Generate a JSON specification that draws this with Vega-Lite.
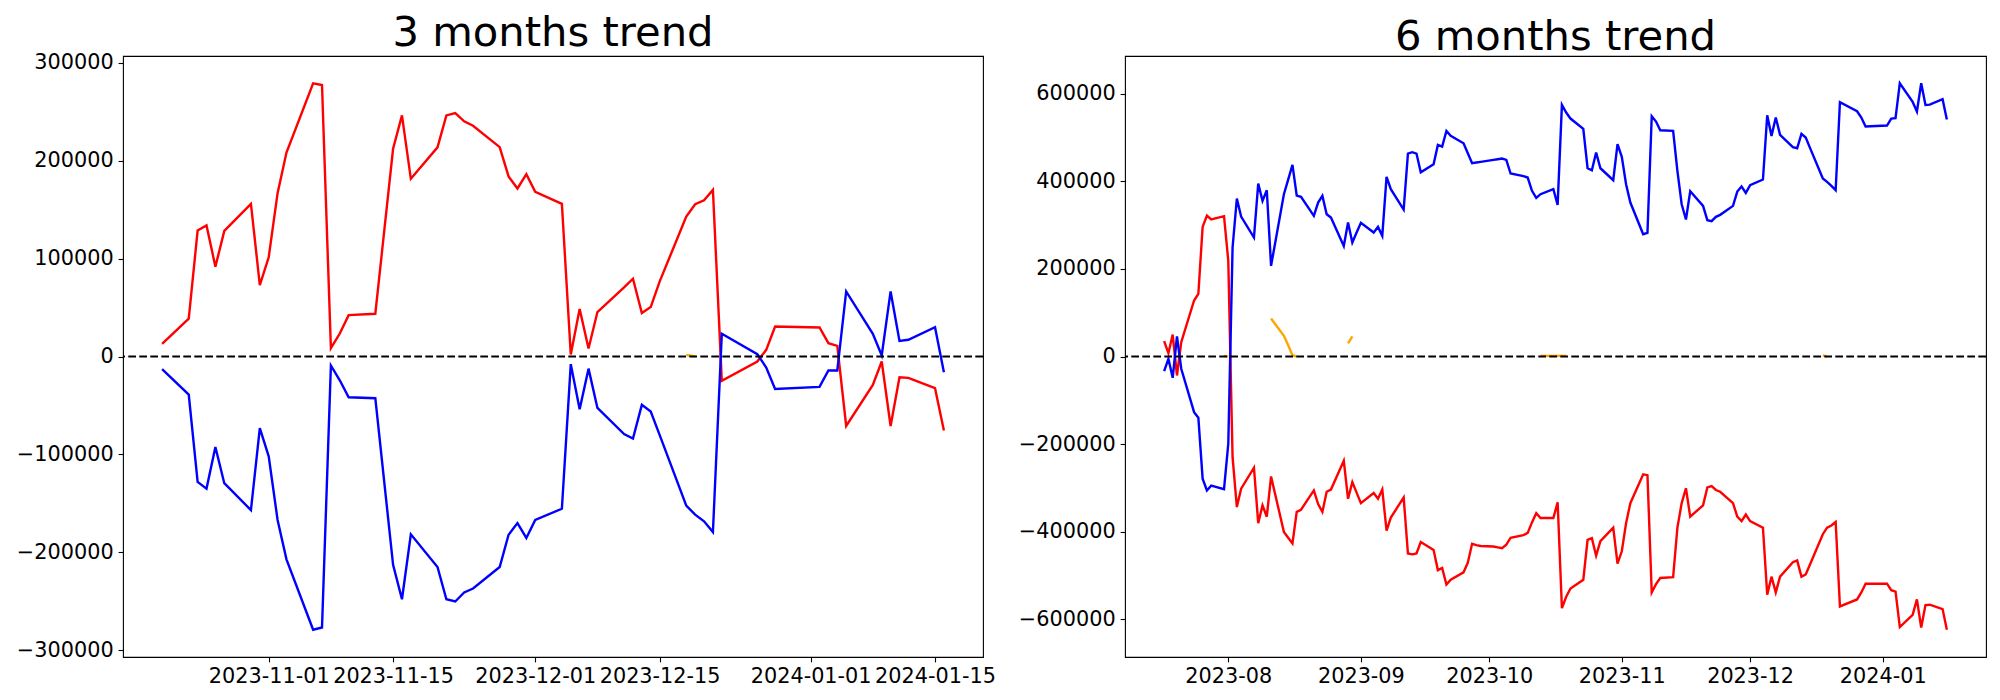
{
 "$schema": "https://vega.github.io/schema/vega-lite/v6.json",
 "background": "white",
 "padding": {"left": 15, "top": 12, "right": 0, "bottom": 0},
 "spacing": 20,
 "config": {
   "font": "DejaVu Sans",
   "view": {"stroke": "black", "strokeWidth": 1.1},
   "axis": {"grid": false, "domain": false, "ticks": true, "tickColor": "black", "tickSize": 4.9, "tickWidth": 1.1, "labelFont": "DejaVu Sans", "labelFontSize": 20.8, "labelColor": "black", "labelPadding": 4.9, "title": null, "labelOverlap": false, "labelFlush": false},
   "title": {"font": "DejaVu Sans", "fontSize": 41.7, "fontWeight": "normal", "color": "black", "offset": -3}
 },
 "datasets": {
  "m3": [
   {"d":"2023-10-20","r":13000,"b":-12800},
   {"d":"2023-10-23","r":38600,"b":-38900},
   {"d":"2023-10-24","r":128700,"b":-128200},
   {"d":"2023-10-25","r":134000,"b":-135000},
   {"d":"2023-10-26","r":91800,"b":-92500},
   {"d":"2023-10-27","r":128300,"b":-129500},
   {"d":"2023-10-30","r":156000,"b":-157000},
   {"d":"2023-10-31","r":73000,"b":-73200},
   {"d":"2023-11-01","r":101400,"b":-102000},
   {"d":"2023-11-02","r":166900,"b":-167000},
   {"d":"2023-11-03","r":208500,"b":-207300},
   {"d":"2023-11-06","r":279200,"b":-279200},
   {"d":"2023-11-07","r":277500,"b":-276900},
   {"d":"2023-11-08","r":8500,"b":-9200},
   {"d":"2023-11-09","r":23500,"b":-24300},
   {"d":"2023-11-10","r":42300,"b":-41600},
   {"d":"2023-11-13","r":43700,"b":-42600},
   {"d":"2023-11-15","r":212300,"b":-212900},
   {"d":"2023-11-16","r":246400,"b":-248100},
   {"d":"2023-11-17","r":181600,"b":-181700},
   {"d":"2023-11-20","r":213700,"b":-215100},
   {"d":"2023-11-21","r":246400,"b":-248100},
   {"d":"2023-11-22","r":248800,"b":-250400},
   {"d":"2023-11-23","r":240300,"b":-241200},
   {"d":"2023-11-24","r":235800,"b":-237100},
   {"d":"2023-11-27","r":214000,"b":-215100},
   {"d":"2023-11-28","r":184000,"b":-182200},
   {"d":"2023-11-29","r":171700,"b":-170300},
   {"d":"2023-11-30","r":186300,"b":-185400},
   {"d":"2023-12-01","r":168300,"b":-167100},
   {"d":"2023-12-04","r":156000,"b":-155600},
   {"d":"2023-12-05","r":2000,"b":-7800},
   {"d":"2023-12-06","r":48500,"b":-54000},
   {"d":"2023-12-07","r":8200,"b":-12400},
   {"d":"2023-12-08","r":45400,"b":-52600},
   {"d":"2023-12-11","r":70600,"b":-79200},
   {"d":"2023-12-12","r":79500,"b":-83800},
   {"d":"2023-12-13","r":44400,"b":-49400},
   {"d":"2023-12-14","r":50500,"b":-56300},
   {"d":"2023-12-15","r":76500,"b":-80100},
   {"d":"2023-12-18","r":143000,"b":-152400},
   {"d":"2023-12-19","r":155600,"b":-161600},
   {"d":"2023-12-20","r":159700,"b":-168400},
   {"d":"2023-12-21","r":170300,"b":-179400},
   {"d":"2023-12-22","r":-24900,"b":23200},
   {"d":"2023-12-26","r":-5100,"b":2400},
   {"d":"2023-12-27","r":6800,"b":-11300},
   {"d":"2023-12-28","r":30700,"b":-33100},
   {"d":"2024-01-02","r":29700,"b":-31000},
   {"d":"2024-01-03","r":13600,"b":-14300},
   {"d":"2024-01-04","r":10900,"b":-14300},
   {"d":"2024-01-05","r":-71000,"b":66500},
   {"d":"2024-01-08","r":-29000,"b":23200},
   {"d":"2024-01-09","r":-5100,"b":1000},
   {"d":"2024-01-10","r":-71000,"b":66500},
   {"d":"2024-01-11","r":-21200,"b":16000},
   {"d":"2024-01-12","r":-21800,"b":17100},
   {"d":"2024-01-15","r":-32400,"b":30000},
   {"d":"2024-01-16","r":-75700,"b":-16000}
  ],
  "o3": [
   {"d":"2023-12-18","v":1700,"g":1},
   {"d":"2023-12-19","v":0,"g":1}
  ],
  "m6": [
   {"d":"2023-07-17","r":35000,"b":-33500},
   {"d":"2023-07-18","r":7600,"b":-5300},
   {"d":"2023-07-19","r":50200,"b":-48700},
   {"d":"2023-07-20","r":-43400,"b":45700},
   {"d":"2023-07-21","r":32700,"b":-28000},
   {"d":"2023-07-24","r":127900,"b":-127100},
   {"d":"2023-07-25","r":143000,"b":-140000},
   {"d":"2023-07-26","r":296000,"b":-279000},
   {"d":"2023-07-27","r":322000,"b":-306000},
   {"d":"2023-07-28","r":313000,"b":-295000},
   {"d":"2023-07-31","r":320500,"b":-303000},
   {"d":"2023-08-01","r":218500,"b":-199000},
   {"d":"2023-08-02","r":-230000,"b":249000},
   {"d":"2023-08-03","r":-344000,"b":360900},
   {"d":"2023-08-04","r":-302000,"b":319700},
   {"d":"2023-08-07","r":-254000,"b":271800},
   {"d":"2023-08-08","r":-381000,"b":395100},
   {"d":"2023-08-09","r":-340000,"b":355500},
   {"d":"2023-08-10","r":-366000,"b":379900},
   {"d":"2023-08-11","r":-274000,"b":207100},
   {"d":"2023-08-14","r":-401000,"b":370800},
   {"d":"2023-08-15","r":-414000,"b":404200},
   {"d":"2023-08-16","r":-427000,"b":437700},
   {"d":"2023-08-17","r":-355000,"b":367700},
   {"d":"2023-08-18","r":-350000,"b":364700},
   {"d":"2023-08-21","r":-306000,"b":321300},
   {"d":"2023-08-22","r":-337000,"b":351700},
   {"d":"2023-08-23","r":-355000,"b":366900},
   {"d":"2023-08-24","r":-309000,"b":325100},
   {"d":"2023-08-25","r":-304000,"b":317500},
   {"d":"2023-08-28","r":-238000,"b":252700},
   {"d":"2023-08-29","r":-325000,"b":306000},
   {"d":"2023-08-30","r":-287000,"b":260400},
   {"d":"2023-08-31","r":-311000,"b":283200},
   {"d":"2023-09-01","r":-335000,"b":305300},
   {"d":"2023-09-04","r":-312000,"b":283200},
   {"d":"2023-09-05","r":-325000,"b":296100},
   {"d":"2023-09-06","r":-304000,"b":275600},
   {"d":"2023-09-07","r":-398000,"b":410300},
   {"d":"2023-09-08","r":-368000,"b":382200},
   {"d":"2023-09-11","r":-322000,"b":335700},
   {"d":"2023-09-12","r":-450000,"b":463600},
   {"d":"2023-09-13","r":-452000,"b":466700},
   {"d":"2023-09-14","r":-450000,"b":463600},
   {"d":"2023-09-15","r":-424000,"b":421000},
   {"d":"2023-09-18","r":-442000,"b":439300},
   {"d":"2023-09-19","r":-488000,"b":483400},
   {"d":"2023-09-20","r":-483000,"b":479600},
   {"d":"2023-09-21","r":-521000,"b":515400},
   {"d":"2023-09-22","r":-510000,"b":504000},
   {"d":"2023-09-25","r":-493000,"b":487200},
   {"d":"2023-09-26","r":-471000,"b":464400},
   {"d":"2023-09-27","r":-428000,"b":441600},
   {"d":"2023-09-28","r":-431000,"b":443100},
   {"d":"2023-09-29","r":-433000,"b":444600},
   {"d":"2023-10-02","r":-434000,"b":449200},
   {"d":"2023-10-03","r":-436000,"b":450700},
   {"d":"2023-10-04","r":-438000,"b":452200},
   {"d":"2023-10-05","r":-430000,"b":449200},
   {"d":"2023-10-06","r":-414000,"b":418000},
   {"d":"2023-10-09","r":-408000,"b":411900},
   {"d":"2023-10-10","r":-403000,"b":408800},
   {"d":"2023-10-11","r":-379000,"b":378400},
   {"d":"2023-10-12","r":-358000,"b":362400},
   {"d":"2023-10-13","r":-369000,"b":370800},
   {"d":"2023-10-16","r":-369000,"b":382200},
   {"d":"2023-10-17","r":-333000,"b":346400},
   {"d":"2023-10-18","r":-575000,"b":574800},
   {"d":"2023-10-19","r":-549000,"b":557300},
   {"d":"2023-10-20","r":-530000,"b":543600},
   {"d":"2023-10-23","r":-510000,"b":520000},
   {"d":"2023-10-24","r":-419000,"b":430100},
   {"d":"2023-10-25","r":-415000,"b":425600},
   {"d":"2023-10-26","r":-455000,"b":465900},
   {"d":"2023-10-27","r":-422000,"b":430100},
   {"d":"2023-10-30","r":-391000,"b":402700},
   {"d":"2023-10-31","r":-473000,"b":485000},
   {"d":"2023-11-01","r":-445000,"b":456000},
   {"d":"2023-11-02","r":-381000,"b":393600},
   {"d":"2023-11-03","r":-335000,"b":351700},
   {"d":"2023-11-06","r":-269000,"b":279400},
   {"d":"2023-11-07","r":-271000,"b":282400},
   {"d":"2023-11-08","r":-539000,"b":548900},
   {"d":"2023-11-09","r":-520000,"b":536700},
   {"d":"2023-11-10","r":-506000,"b":516900},
   {"d":"2023-11-13","r":-504000,"b":515400},
   {"d":"2023-11-14","r":-391000,"b":424000},
   {"d":"2023-11-15","r":-335000,"b":347900},
   {"d":"2023-11-16","r":-301000,"b":312900},
   {"d":"2023-11-17","r":-366000,"b":377600},
   {"d":"2023-11-20","r":-340000,"b":344100},
   {"d":"2023-11-21","r":-299000,"b":311400},
   {"d":"2023-11-22","r":-296000,"b":309100},
   {"d":"2023-11-23","r":-305000,"b":319000},
   {"d":"2023-11-24","r":-309000,"b":323600},
   {"d":"2023-11-27","r":-335000,"b":344100},
   {"d":"2023-11-28","r":-366000,"b":376800},
   {"d":"2023-11-29","r":-376000,"b":388300},
   {"d":"2023-11-30","r":-361000,"b":373800},
   {"d":"2023-12-01","r":-376000,"b":391300},
   {"d":"2023-12-04","r":-391000,"b":404300},
   {"d":"2023-12-05","r":-544000,"b":551200},
   {"d":"2023-12-06","r":-503000,"b":504000},
   {"d":"2023-12-07","r":-539000,"b":545900},
   {"d":"2023-12-08","r":-503000,"b":506300},
   {"d":"2023-12-11","r":-470000,"b":478100},
   {"d":"2023-12-12","r":-466000,"b":475800},
   {"d":"2023-12-13","r":-503000,"b":508500},
   {"d":"2023-12-14","r":-498000,"b":500200},
   {"d":"2023-12-15","r":-475000,"b":476600},
   {"d":"2023-12-18","r":-406000,"b":406500},
   {"d":"2023-12-19","r":-391000,"b":398900},
   {"d":"2023-12-20","r":-386000,"b":389800},
   {"d":"2023-12-21","r":-378000,"b":379900},
   {"d":"2023-12-22","r":-571000,"b":580900},
   {"d":"2023-12-26","r":-555000,"b":560300},
   {"d":"2023-12-27","r":-539000,"b":545900},
   {"d":"2023-12-28","r":-519000,"b":525300},
   {"d":"2024-01-02","r":-519000,"b":527600},
   {"d":"2024-01-03","r":-534000,"b":543600},
   {"d":"2024-01-04","r":-537000,"b":544300},
   {"d":"2024-01-05","r":-618000,"b":624300},
   {"d":"2024-01-08","r":-590000,"b":581600},
   {"d":"2024-01-09","r":-555000,"b":559600},
   {"d":"2024-01-10","r":-619000,"b":624300},
   {"d":"2024-01-11","r":-568000,"b":574800},
   {"d":"2024-01-12","r":-567000,"b":575500},
   {"d":"2024-01-15","r":-577000,"b":587700},
   {"d":"2024-01-16","r":-624000,"b":541300}
  ],
  "o6": [
   {"d":"2023-07-31","v":1500,"g":1},
   {"d":"2023-08-01","v":0,"g":1},
   {"d":"2023-08-11","v":86800,"g":2},
   {"d":"2023-08-14","v":47200,"g":2},
   {"d":"2023-08-15","v":25800,"g":2},
   {"d":"2023-08-16","v":3000,"g":2},
   {"d":"2023-08-17","v":0,"g":2},
   {"d":"2023-08-29","v":29700,"g":3},
   {"d":"2023-08-30","v":45700,"g":3},
   {"d":"2023-10-13","v":1500,"g":4},
   {"d":"2023-10-16","v":1500,"g":4},
   {"d":"2023-10-17","v":1500,"g":4},
   {"d":"2023-10-18","v":1500,"g":4},
   {"d":"2023-10-19","v":1500,"g":4},
   {"d":"2023-12-18","v":2500,"g":5},
   {"d":"2023-12-19","v":0,"g":5}
  ]
 },
 "hconcat": [
  {
   "title": "3 months trend",
   "width": 860,
   "height": 601,
   "encoding": {
    "x": {"field": "d", "type": "temporal",
          "scale": {"type": "utc", "domain": [{"year": 2023, "month": 10, "date": 15, "hours": 14, "minutes": 24, "utc": true}, {"year": 2024, "month": 1, "date": 20, "hours": 9, "minutes": 36, "utc": true}]},
          "axis": {"labelExpr": "utcFormat(datum.value, '%Y-%m-%d')", "labelAngle": 0,
                   "values": [{"year": 2023, "month": 11, "date": 1, "utc": true}, {"year": 2023, "month": 11, "date": 15, "utc": true}, {"year": 2023, "month": 12, "date": 1, "utc": true}, {"year": 2023, "month": 12, "date": 15, "utc": true}, {"year": 2024, "month": 1, "date": 1, "utc": true}, {"year": 2024, "month": 1, "date": 15, "utc": true}]}},
    "y": {"field": "v", "type": "quantitative",
          "scale": {"domain": [-307100, 307100], "nice": false, "zero": false},
          "axis": {"format": "d", "values": [-300000, -200000, -100000, 0, 100000, 200000, 300000]}}
   },
   "layer": [
    {
     "data": {"name": "m3"},
     "transform": [{"fold": ["r", "b"], "as": ["s", "v"]}],
     "mark": {"type": "line", "strokeWidth": 2.4},
     "encoding": {
      "color": {"field": "s", "type": "nominal", "scale": {"domain": ["r", "b"], "range": ["red", "blue"]}, "legend": null}
     }
    },
    {
     "data": {"name": "o3"},
     "mark": {"type": "line", "color": "orange", "strokeWidth": 2.4},
     "encoding": {
      "detail": {"field": "g", "type": "nominal"}
     }
    },
    {
     "data": {"values": [{"z": 0}]},
     "mark": {"type": "rule", "color": "black", "strokeWidth": 2.1, "strokeDash": [7.7, 3.3]},
     "encoding": {"x": null, "y": {"field": "z", "type": "quantitative"}}
    }
   ]
  },
  {
   "title": "6 months trend",
   "width": 861,
   "height": 601,
   "encoding": {
    "x": {"field": "d", "type": "temporal",
          "scale": {"type": "utc", "domain": [{"year": 2023, "month": 7, "date": 7, "hours": 20, "minutes": 24, "utc": true}, {"year": 2024, "month": 1, "date": 25, "hours": 3, "minutes": 36, "utc": true}]},
          "axis": {"labelExpr": "utcFormat(datum.value, '%Y-%m')", "labelAngle": 0,
                   "values": [{"year": 2023, "month": 8, "date": 1, "utc": true}, {"year": 2023, "month": 9, "date": 1, "utc": true}, {"year": 2023, "month": 10, "date": 1, "utc": true}, {"year": 2023, "month": 11, "date": 1, "utc": true}, {"year": 2023, "month": 12, "date": 1, "utc": true}, {"year": 2024, "month": 1, "date": 1, "utc": true}]}},
    "y": {"field": "v", "type": "quantitative",
          "scale": {"domain": [-686500, 686500], "nice": false, "zero": false},
          "axis": {"format": "d", "values": [-600000, -400000, -200000, 0, 200000, 400000, 600000]}}
   },
   "layer": [
    {
     "data": {"name": "m6"},
     "transform": [{"fold": ["r", "b"], "as": ["s", "v"]}],
     "mark": {"type": "line", "strokeWidth": 2.4},
     "encoding": {
      "color": {"field": "s", "type": "nominal", "scale": {"domain": ["r", "b"], "range": ["red", "blue"]}, "legend": null}
     }
    },
    {
     "data": {"name": "o6"},
     "mark": {"type": "line", "color": "orange", "strokeWidth": 2.4},
     "encoding": {
      "detail": {"field": "g", "type": "nominal"}
     }
    },
    {
     "data": {"values": [{"z": 0}]},
     "mark": {"type": "rule", "color": "black", "strokeWidth": 2.1, "strokeDash": [7.7, 3.3]},
     "encoding": {"x": null, "y": {"field": "z", "type": "quantitative"}}
    }
   ]
  }
 ]
}
